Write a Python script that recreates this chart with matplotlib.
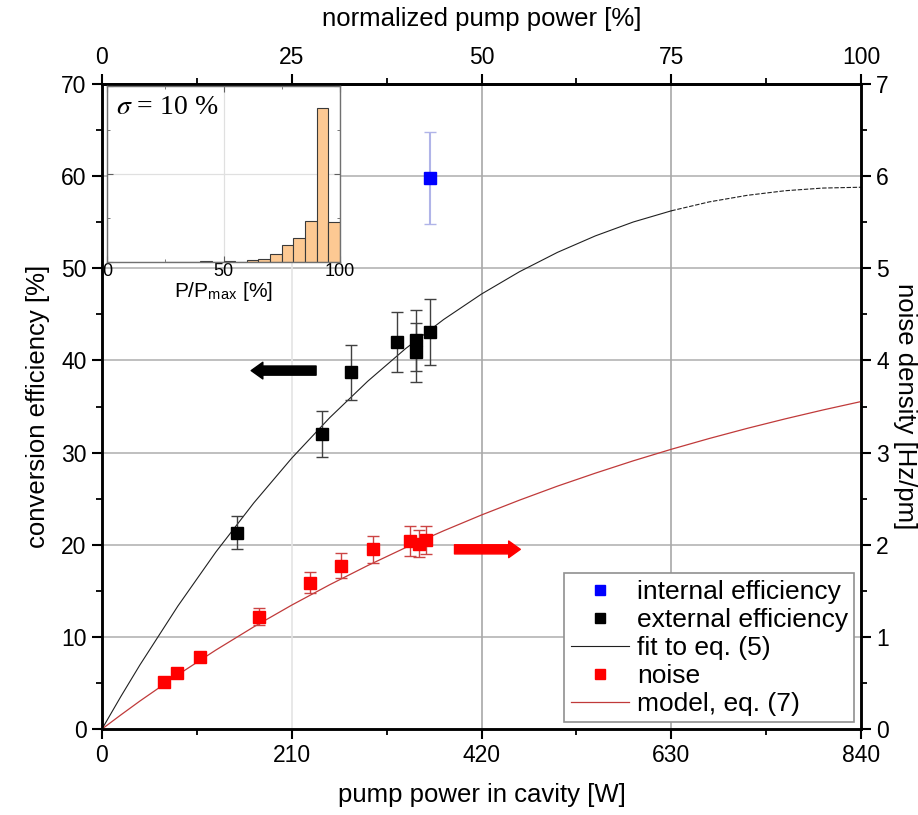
import numpy as np
import matplotlib.pyplot as plt
from matplotlib.ticker import MultipleLocator

plt.rcParams['font.family'] = ['Liberation Sans', 'DejaVu Sans']
plt.rcParams['mathtext.fontset'] = 'stix'

# external / internal conversion efficiency [%]
ext_power = [149, 243, 276, 327, 347, 348, 363]
ext_eff = [21.3, 32.0, 38.7, 42.0, 42.2, 40.9, 43.1]
ext_err = [1.8, 2.5, 3.0, 3.3, 3.3, 3.2, 3.6]

int_power = [363]
int_eff = [59.8]
int_err = [5.0]

# noise density [Hz/pm]
noise_power = [69, 83, 108, 174, 230, 264, 300, 341, 351, 358]
noise_val = [0.507, 0.608, 0.785, 1.22, 1.59, 1.77, 1.95, 2.04, 2.01, 2.05]
noise_err = [0.03, 0.03, 0.03, 0.09, 0.11, 0.135, 0.15, 0.16, 0.145, 0.15]

# curves
curve_power = [0, 21, 42, 84, 126, 168, 210, 252, 294, 336, 378, 420,
               462, 504, 546, 588, 630, 672, 714, 756, 798, 840]
fit_eff = [0, 3.55, 6.96, 13.35, 19.21, 24.54, 29.40, 33.79, 37.74, 41.29, 44.44, 47.21,
           49.63, 51.73, 53.52, 55.03, 56.24, 57.21, 57.92, 58.42, 58.71, 58.80]
model_noise = [0, 0.154, 0.304, 0.589, 0.857, 1.109, 1.345, 1.566, 1.774, 1.969, 2.151, 2.323,
               2.484, 2.636, 2.777, 2.911, 3.036, 3.153, 3.263, 3.366, 3.463, 3.554]

# inset histogram, P/Pmax in 5 % bins
hist_edges = [25, 30, 35, 40, 45, 50, 55, 60, 65, 70, 75, 80, 85, 90, 95, 100]
hist_counts = [0.5, 1, 1, 2, 1, 2, 1, 4, 6, 19, 39, 54, 93, 349, 92]

fig = plt.figure(figsize=(9.18, 8.15), dpi=100)
ax = fig.add_axes([0.1111, 0.1055, 0.8269, 0.7914])
ax2 = ax.twinx()

ax.set_xlim(0, 840)
ax.set_ylim(0, 70)
ax2.set_ylim(0, 7)

# grid
for v in [10, 20, 30, 40, 50, 60]:
    ax.axhline(v, color='#b4b4b4', lw=1.2, zorder=0)
ax.axvline(210, color='#e4e4e4', lw=1.2, zorder=0)
ax.axvline(420, color='#a8a8a8', lw=1.2, zorder=0)
ax.axvline(630, color='#a8a8a8', lw=1.2, zorder=0)

# efficiency
ax.plot(curve_power[:17], fit_eff[:17], color='#202020', lw=0.8, label='fit to eq. (5)')
ax.plot(curve_power[16:], fit_eff[16:], color='#202020', lw=0.8, ls=(0, (4, 1.5)))
ax.errorbar(ext_power, ext_eff, yerr=ext_err, fmt='none', ecolor='#404040',
            elinewidth=1, capsize=4, capthick=1)
ax.errorbar(int_power, int_eff, yerr=int_err, fmt='none', ecolor='#b0b4e8',
            elinewidth=1.5, capsize=4, capthick=1)
ax.plot(ext_power, ext_eff, 's', color='black', ms=9, label='external efficiency')
ax.plot(int_power, int_eff, 's', color='#0000ff', ms=9, label='internal efficiency')

# noise
ax2.plot(curve_power, model_noise, color='#c03a3a', lw=0.9, label='model, eq. (7)')
ax2.errorbar(noise_power, noise_val, yerr=noise_err, fmt='none', ecolor='#cc4444',
             elinewidth=1, capsize=4, capthick=1)
ax2.plot(noise_power, noise_val, 's', color='#ff0000', ms=9, label='noise')

# arrows pointing to the axes
ax.annotate('', xy=(162, 38.9), xytext=(240, 38.9),
            arrowprops=dict(arrowstyle='simple,head_length=0.7,head_width=1.0,tail_width=0.55',
                            color='black', mutation_scale=12))
ax.annotate('', xy=(466, 19.5), xytext=(387, 19.5),
            arrowprops=dict(arrowstyle='simple,head_length=0.7,head_width=1.0,tail_width=0.55',
                            color='#ff0000', mutation_scale=12))

# axes / ticks
ax.set_xticks([0, 210, 420, 630, 840])
ax.xaxis.set_minor_locator(MultipleLocator(105))
ax.yaxis.set_major_locator(MultipleLocator(10))
ax.yaxis.set_minor_locator(MultipleLocator(5))
ax2.yaxis.set_major_locator(MultipleLocator(1))
ax2.yaxis.set_minor_locator(MultipleLocator(0.5))

top = ax.secondary_xaxis('top', functions=(lambda w: w / 8.4, lambda p: p * 8.4))
top.set_xticks([0, 25, 50, 75, 100])
top.xaxis.set_minor_locator(MultipleLocator(12.5))

for a in [ax, ax2, top]:
    a.tick_params(which='major', direction='out', length=7, width=1.5, labelsize=16.5, pad=4)
    a.tick_params(which='minor', direction='out', length=4, width=1.3)
for a in [ax, ax2]:
    for s in a.spines.values():
        s.set_linewidth(1.8)
top.spines['top'].set_linewidth(1.8)

ax.set_xlabel('pump power in cavity [W]', fontsize=18.5, labelpad=11)
ax.set_ylabel('conversion efficiency [%]', fontsize=18.5, labelpad=8)
ax2.set_ylabel('noise density [Hz/pm]', fontsize=18.5, rotation=270, va='center')
ax2.yaxis.set_label_coords(1.058, 0.5)
top.set_xlabel('normalized pump power [%]', fontsize=18.5, labelpad=14)

# legend
h1, l1 = ax.get_legend_handles_labels()
h2, l2 = ax2.get_legend_handles_labels()
hd = dict(zip(l1 + l2, h1 + h2))
order = ['internal efficiency', 'external efficiency', 'fit to eq. (5)', 'noise', 'model, eq. (7)']
leg = ax2.legend([hd[k] for k in order], order, loc='lower right', fontsize=19,
                 frameon=True, fancybox=False, edgecolor='#909090', framealpha=1,
                 handlelength=2.2, handletextpad=0.3, labelspacing=0.15, borderpad=0.25,
                 borderaxespad=0.25, markerscale=0.75)
leg.get_frame().set_linewidth(1.2)

# inset
ins = fig.add_axes([0.1166, 0.6785, 0.2538, 0.216])
ins.bar(hist_edges[:-1], hist_counts, width=5, align='edge', color='#fdc993',
        edgecolor='#3a3a3a', linewidth=0.8, zorder=2)
ins.set_xlim(0, 100)
ins.set_ylim(0, 400)
ins.set_xticks([0, 50, 100])
ins.xaxis.set_minor_locator(MultipleLocator(25))
ins.set_yticks([0, 200, 400])
ins.yaxis.set_minor_locator(MultipleLocator(100))
ins.set_yticklabels([])
ins.grid(True, color='#e0e0e0', lw=0.9, zorder=0)
ins.tick_params(which='both', direction='in', top=True, right=True, labelsize=13, pad=1,
                color='#606060')
ins.tick_params(which='major', length=4)
ins.tick_params(which='minor', length=2.5)
for s in ins.spines.values():
    s.set_color('#707070')
    s.set_linewidth(1.0)
ins.set_xlabel('P/P$_{\\mathregular{max}}$ [%]', fontsize=15, labelpad=0)
ins.text(0.04, 0.95, r'$\sigma$ = 10 %', transform=ins.transAxes, fontsize=20,
         family='Liberation Serif', va='top', ha='left')

fig.savefig('out.png', dpi=100)
